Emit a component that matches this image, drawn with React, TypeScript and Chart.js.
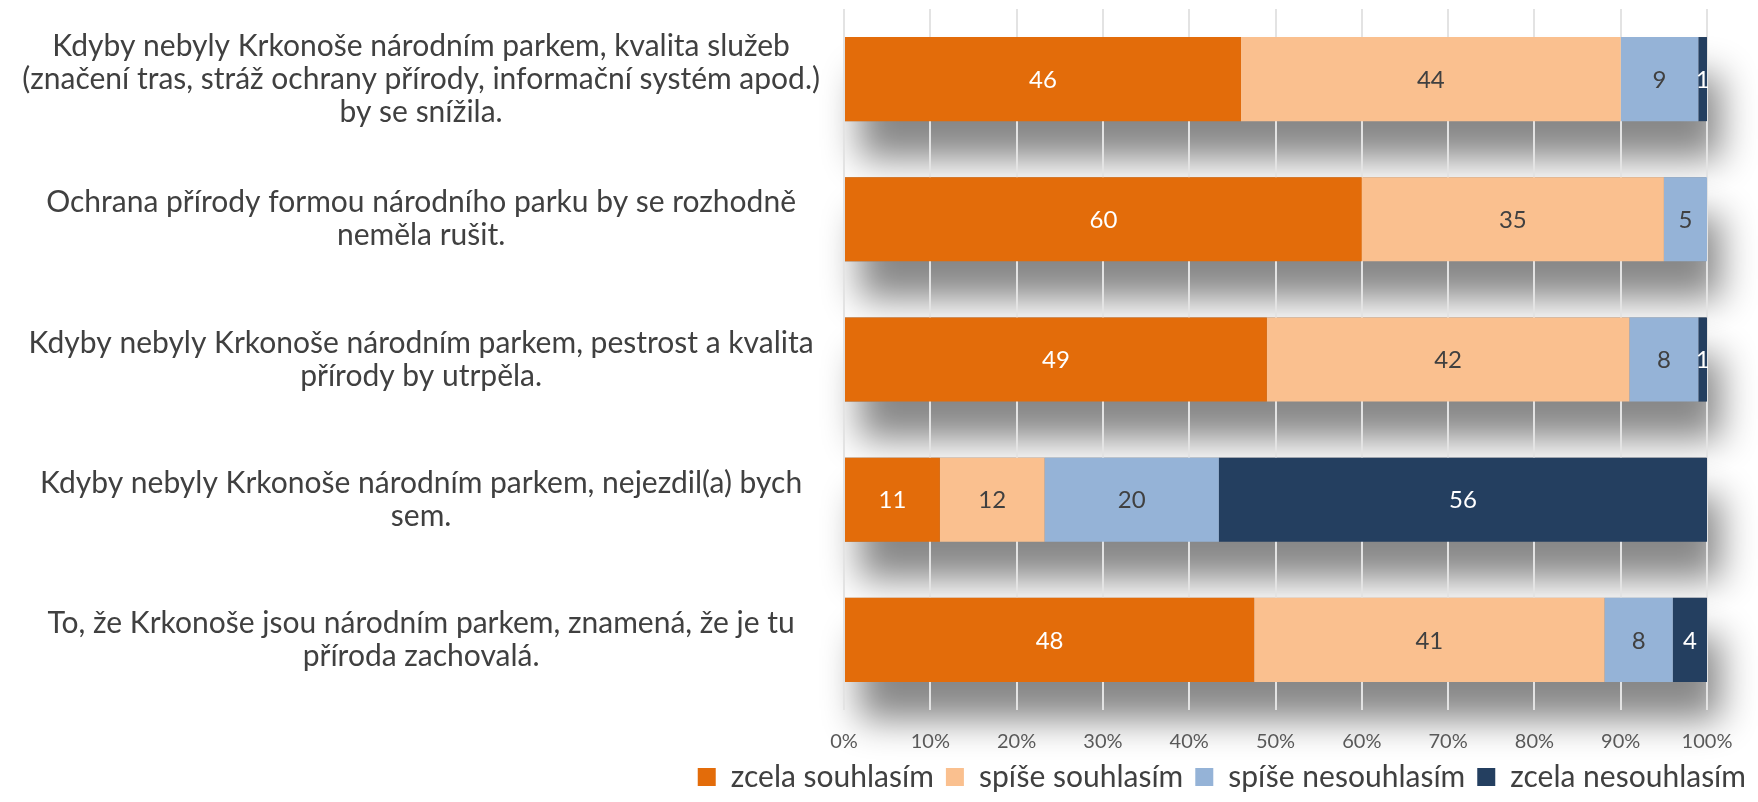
import { useEffect, useRef } from "react";
import { Chart, registerables } from "chart.js";

Chart.register(...registerables);

const categories: string[][] = [
  [
    "Kdyby nebyly Krkonoše národním parkem, kvalita služeb",
    "(značení tras, stráž ochrany přírody, informační systém apod.)",
    "by se snížila.",
  ],
  ["Ochrana přírody formou národního parku by se rozhodně", "neměla rušit."],
  ["Kdyby nebyly Krkonoše národním parkem, pestrost a kvalita", "přírody by utrpěla."],
  ["Kdyby nebyly Krkonoše národním parkem, nejezdil(a) bych", "sem."],
  ["To, že Krkonoše jsou národním parkem, znamená, že je tu", "příroda zachovalá."],
];

const seriesNames = ["zcela souhlasím", "spíše souhlasím", "spíše nesouhlasím", "zcela nesouhlasím"];
const zcelaSouhlasim = [46, 60, 49, 11, 48];
const spiseSouhlasim = [44, 35, 42, 12, 41];
const spiseNesouhlasim = [9, 5, 8, 20, 8];
const zcelaNesouhlasim = [1, 0, 1, 56, 4];
const xTickValues = [0, 10, 20, 30, 40, 50, 60, 70, 80, 90, 100];

const seriesColors = ["#E36C0A", "#FAC08F", "#95B3D7", "#243F60"];
const labelColors = ["#FFFFFF", "#404040", "#404040", "#FFFFFF"];

const FONT = "Lato, 'Open Sans', sans-serif";

const shadowPlugin = {
  id: "barShadow",
  beforeDraw(chart: any) {
    const ctx = chart.ctx;
    const n = chart.data.labels.length;
    ctx.save();
    for (let i = 0; i < n; i++) {
      let left = Infinity;
      let right = -Infinity;
      let top = 0;
      let bottom = 0;
      chart.data.datasets.forEach((_ds: any, d: number) => {
        const el = chart.getDatasetMeta(d).data[i];
        if (!el) return;
        const p = el.getProps(["x", "y", "base", "height"], true);
        left = Math.min(left, p.base, p.x);
        right = Math.max(right, p.base, p.x);
        top = p.y - p.height / 2;
        bottom = p.y + p.height / 2;
      });
      if (!isFinite(left)) continue;
      ctx.shadowColor = "rgba(0,0,0,0.47)";
      ctx.shadowBlur = 36;
      ctx.shadowOffsetX = 14;
      ctx.shadowOffsetY = 38;
      ctx.fillStyle = "#888888";
      ctx.fillRect(left, top, right - left, bottom - top);
    }
    ctx.restore();
  },
};

const dataLabelPlugin = {
  id: "barValueLabels",
  afterDatasetsDraw(chart: any) {
    const ctx = chart.ctx;
    ctx.save();
    ctx.font = `24px ${FONT}`;
    ctx.textAlign = "center";
    ctx.textBaseline = "middle";
    chart.data.datasets.forEach((ds: any, d: number) => {
      const meta = chart.getDatasetMeta(d);
      meta.data.forEach((el: any, i: number) => {
        const raw = ds.rawValues[i];
        if (!raw) return;
        const c = el.getCenterPoint();
        ctx.fillStyle = labelColors[d];
        ctx.fillText(String(raw), c.x, c.y + 1);
      });
    });
    ctx.restore();
  },
};

export default function App() {
  const canvasRef = useRef<HTMLCanvasElement | null>(null);

  useEffect(() => {
    if (!canvasRef.current) return;
    const series = [zcelaSouhlasim, spiseSouhlasim, spiseNesouhlasim, zcelaNesouhlasim];
    const totals = categories.map((_, i) => series.reduce((s, arr) => s + arr[i], 0));
    const chart = new Chart(canvasRef.current, {
      type: "bar",
      data: {
        labels: categories as any,
        datasets: series.map((arr, d) => ({
          label: seriesNames[d],
          data: arr.map((v, i) => (v / totals[i]) * 100),
          rawValues: arr,
          backgroundColor: seriesColors[d],
          borderColor: seriesColors[d],
          borderWidth: 0,
          barPercentage: 0.6,
          categoryPercentage: 1,
        })) as any,
      },
      options: {
        indexAxis: "y",
        animation: false,
        responsive: true,
        maintainAspectRatio: false,
        layout: { padding: { top: 9, left: 0, right: 0, bottom: 0 } },
        plugins: {
          tooltip: { enabled: false },
          legend: {
            position: "bottom",
            align: "end",
            labels: {
              boxWidth: 18,
              boxHeight: 18,
              padding: 12,
              color: "#404040",
              font: { family: FONT, size: 30 },
            },
          },
        },
        scales: {
          x: {
            stacked: true,
            min: 0,
            max: 100,
            afterBuildTicks: (scale: any) => {
              scale.ticks = xTickValues.map((v) => ({ value: v }));
            },
            ticks: {
              callback: (v: any) => `${v}%`,
              color: "#595959",
              font: { family: FONT, size: 20 },
              padding: 20,
              maxRotation: 0,
            },
            grid: { color: "#E3E3E3", lineWidth: 2, drawTicks: false },
            border: { display: false },
            afterFit: (scale: any) => {
              scale.height = 40;
            },
          },
          y: {
            stacked: true,
            ticks: {
              crossAlign: "center",
              padding: 16,
              color: "#404040",
              font: { family: FONT, size: 30, lineHeight: 1.1 },
            },
            grid: { display: false },
            border: { display: false },
            afterFit: (scale: any) => {
              scale.width = 844;
              scale.paddingTop = 0;
              scale.paddingBottom = 0;
            },
          },
          r: {
            type: "linear",
            position: "right",
            display: true,
            ticks: { display: false },
            grid: { display: false },
            border: { display: false },
            afterFit: (scale: any) => {
              scale.width = 51;
              scale.paddingTop = 0;
              scale.paddingBottom = 0;
            },
          },
        },
      } as any,
      plugins: [shadowPlugin, dataLabelPlugin],
    });
    return () => chart.destroy();
  }, []);

  return (
    <div
      style={{
        position: "fixed",
        left: 0,
        top: 0,
        width: 1758,
        height: 802,
        background: "#FFFFFF",
      }}
    >
      <canvas ref={canvasRef} />
    </div>
  );
}
